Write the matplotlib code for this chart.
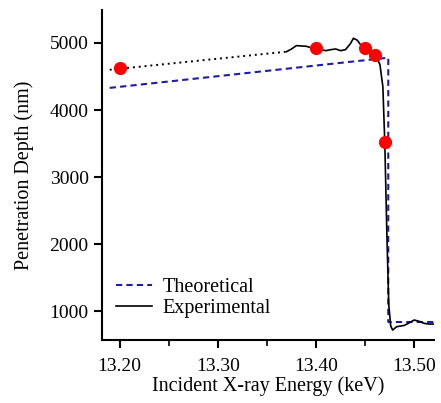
import matplotlib.pyplot as plt
from matplotlib.ticker import MultipleLocator

plt.rcParams['font.family'] = ['Liberation Serif', 'DejaVu Serif']

# theoretical penetration depth
theo_e = [13.19, 13.4735, 13.4735, 13.52]
theo_d = [4330, 4780, 840, 840]

# measured scan
exp_e = [13.370, 13.375, 13.380, 13.385, 13.390, 13.395, 13.400, 13.405, 13.410,
         13.415, 13.420, 13.425, 13.430, 13.435, 13.438, 13.442, 13.446, 13.450,
         13.455, 13.460, 13.465, 13.468, 13.470, 13.472, 13.474, 13.476, 13.478,
         13.482, 13.486, 13.490, 13.495, 13.500, 13.505, 13.510, 13.515, 13.520]
exp_d = [4870, 4910, 4960, 4955, 4950, 4930, 4920, 4900, 4885,
         4900, 4910, 4885, 4900, 4990, 5070, 5040, 4960, 4925,
         4880, 4830, 4680, 4350, 3500, 2200, 1100, 780, 720,
         770, 780, 790, 830, 870, 850, 820, 810, 810]

# extrapolated low-energy part
dot_e = [13.19, 13.37]
dot_d = [4600, 4870]

# fitted depths
pts_e = [13.20, 13.40, 13.45, 13.46, 13.47]
pts_d = [4625, 4925, 4925, 4825, 3520]

fig = plt.figure(figsize=(4.41, 4.03), dpi=100)
ax = fig.add_axes([0.231, 0.156, 0.753, 0.819])

ax.plot(dot_e, dot_d, color='black', linestyle=(0, (1, 2)), linewidth=1.4)
ax.plot(theo_e, theo_d, color='#1c1caa', linestyle=(0, (3, 2)), linewidth=1.5, label='Theoretical')
ax.plot(exp_e, exp_d, color='black', linewidth=1.2, label='Experimental')
ax.plot(pts_e, pts_d, 'o', color='#ff0000', markersize=8.5, zorder=5)

ax.set_xlim(13.182, 13.52)
ax.set_ylim(570, 5490)
ax.xaxis.set_major_locator(MultipleLocator(0.1))
ax.xaxis.set_minor_locator(MultipleLocator(0.05))
ax.xaxis.set_major_formatter(plt.FormatStrFormatter('%.2f'))
ax.yaxis.set_major_locator(MultipleLocator(1000))

for s in ['top', 'right']:
    ax.spines[s].set_visible(False)
for s in ['left', 'bottom']:
    ax.spines[s].set_linewidth(1.5)
ax.tick_params(which='major', direction='out', length=6, width=1.5, labelsize=14)
ax.tick_params(which='minor', direction='out', length=4, width=1.2)
ax.tick_params(axis='x', which='major', pad=7)

ax.set_xlabel('Incident X-ray Energy (keV)', fontsize=14.5, labelpad=1)
ax.set_ylabel('Penetration Depth (nm)', fontsize=14.5, labelpad=11)

ax.legend(loc='lower left', frameon=False, fontsize=14.5, handlelength=1.8,
          handletextpad=0.5, borderaxespad=0.3, bbox_to_anchor=(0.0, 0.025),
          labelspacing=0.1)

fig.savefig('out.png', dpi=100)
